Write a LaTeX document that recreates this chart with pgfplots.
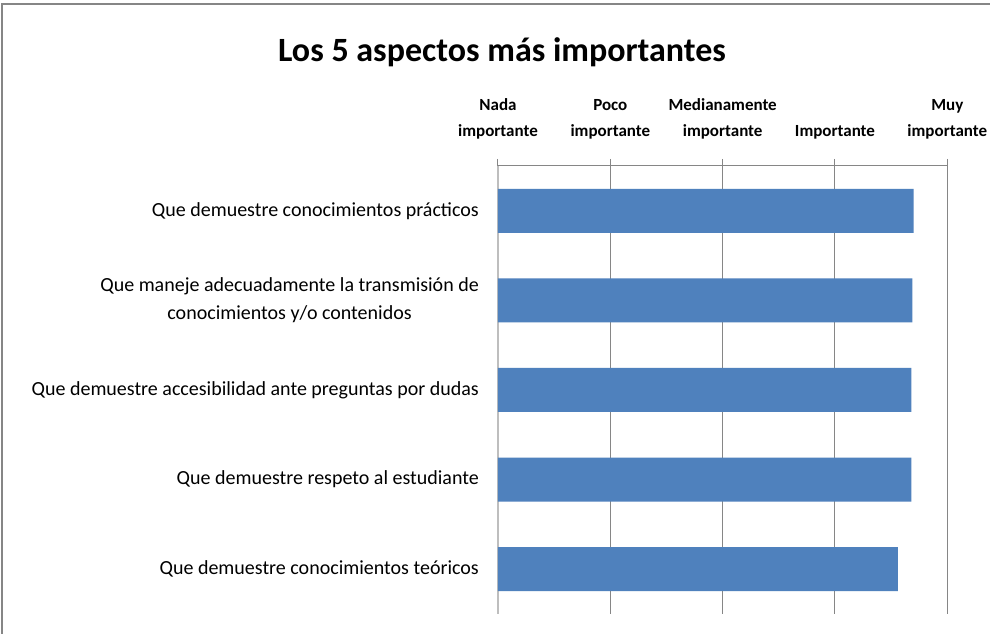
\documentclass[border=0pt]{standalone}
\usepackage{fontspec}
\setmainfont{Carlito}
\usepackage{pgfplots}
\pgfplotsset{compat=1.18}
\definecolor{barblue}{RGB}{79,129,189}
\definecolor{gridgray}{RGB}{134,134,134}
\definecolor{axgray}{RGB}{190,190,190}
\begin{document}
\begin{tikzpicture}
\useasboundingbox (-498pt,-20pt) rectangle (492pt,614pt);
\fill[white] (-498pt,-20pt) rectangle (492pt,614pt);
\draw[gridgray, line width=2pt] (-496pt,-20pt) -- (-496pt,610pt) -- (492pt,610pt);
\node[font=\bfseries\fontsize{34}{40}\selectfont, anchor=base] at (4pt,552pt) {Los 5 aspectos más importantes};
\begin{axis}[
  at={(0pt,0pt)}, anchor=south west,
  scale only axis, width=449.3pt, height=448pt,
  xbar, bar width=44pt,
  xmin=1, xmax=5, ymin=0.5, ymax=5.5,
  axis x line*=top, axis y line*=left,
  x axis line style={-, gridgray, line width=1pt},
  y axis line style={-, axgray, line width=1.5pt},
  xtick={1,2,3,4,5},
  xticklabels={Nada\\importante, Poco\\importante, Medianamente\\importante, Importante, Muy\\importante},
  xticklabel style={font=\bfseries\fontsize{17}{26}\selectfont, align=center, anchor=south, inner sep=0pt, yshift=20pt},
  xtick align=outside, major tick length=7pt,
  xtick style={gridgray, line width=1pt},
  xmajorgrids, grid style={gridgray, line width=1pt},
  ytick={1,2,3,4,5},
  yticklabels={Que demuestre conocimientos teóricos, Que demuestre respeto al estudiante, Que demuestre accesibilidad ante preguntas por dudas, Que maneje adecuadamente la transmisión de\\conocimientos y/o contenidos, Que demuestre conocimientos prácticos},
  ytick style={draw=none},
  yticklabel style={font=\fontsize{20}{28}\selectfont, align=center, anchor=east, inner sep=0pt, xshift=-12pt},
]
\addplot[fill=barblue, draw=none] coordinates {(4.56,1) (4.68,2) (4.68,3) (4.69,4) (4.70,5)};
\end{axis}
\end{tikzpicture}
\end{document}
